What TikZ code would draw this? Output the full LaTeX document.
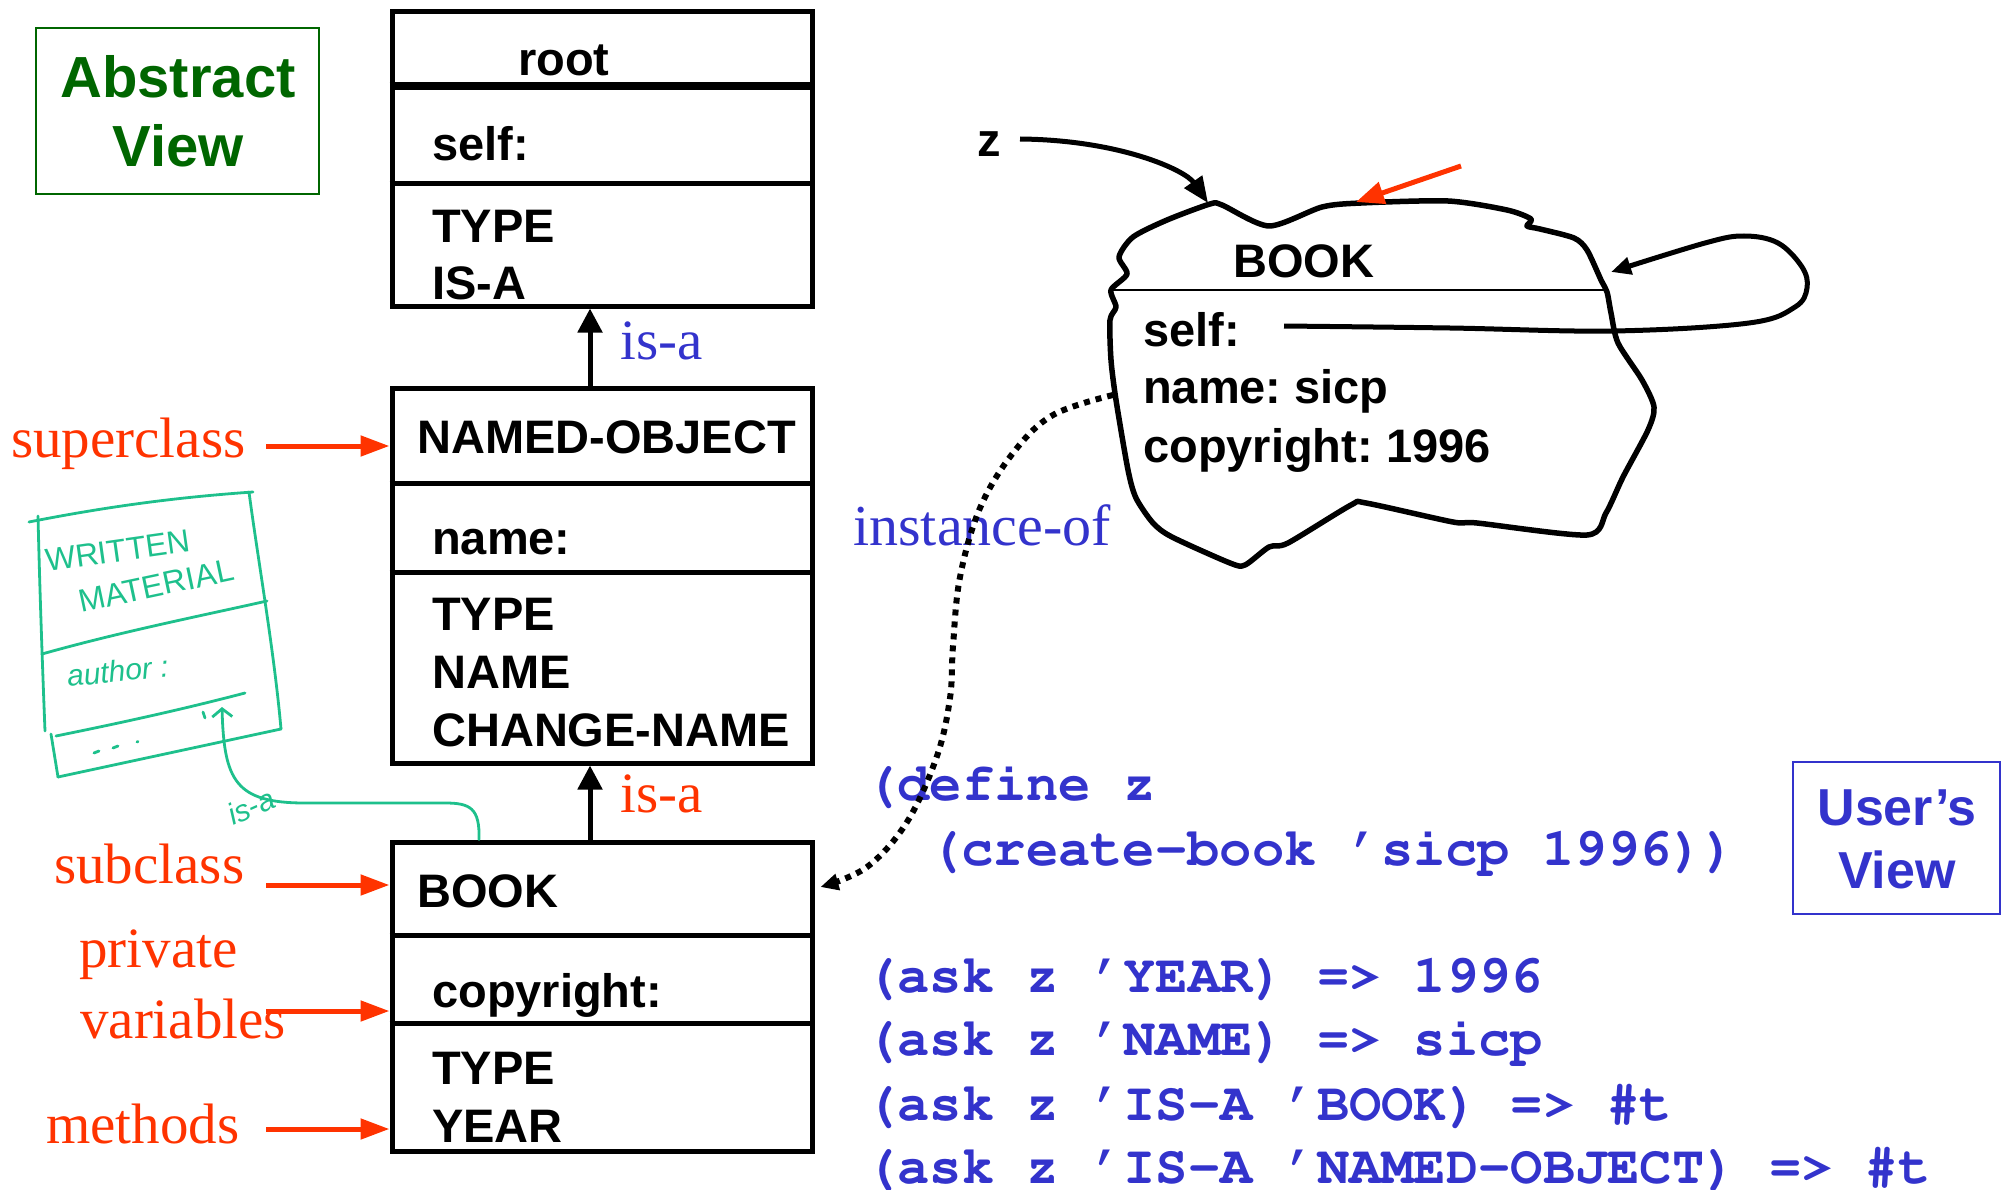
\documentclass[tikz,border=0pt]{standalone}
\usepackage[T1]{fontenc}
\usepackage{fontspec}
\setmainfont{Liberation Serif}
\setsansfont{Liberation Sans}
\setmonofont{Liberation Mono}
\usetikzlibrary{arrows.meta,calc}

\definecolor{redorange}{RGB}{255,51,0}
\definecolor{codeblue}{RGB}{51,51,204}
\definecolor{darkgreen}{RGB}{0,102,0}
\definecolor{penteal}{RGB}{30,192,140}

% bold Courier for the Scheme session
\newcommand\schemefont{\fontencoding{T1}\fontfamily{pcr}\fontseries{b}\fontshape{n}\fontsize{53.8}{64}\selectfont}
\newcommand\q{\textquoteright}

\tikzset{
  classbox/.style={draw, line width=5pt, rectangle, inner sep=0pt, minimum width=420pt},
  slotline/.style={line width=5pt},
  boxtext/.style={font=\sffamily\bfseries\fontsize{47}{56}\selectfont, anchor=base west, inner sep=0pt},
  serifnote/.style={font=\rmfamily\fontsize{57}{68}\selectfont, anchor=base west, inner sep=0pt},
  codeline/.style={font=\schemefont, text=codeblue, anchor=base west, inner sep=0pt},
  viewtitle/.style={font=\sffamily\bfseries\fontsize{58}{69}\selectfont, anchor=base, inner sep=0pt},
  isaarrow/.style={line width=5pt, -{Triangle[length=24pt,width=24pt]}},
  labelarrow/.style={redorange, line width=5pt, -{Triangle[length=29pt,width=20pt]}},
  pen/.style={penteal, line width=2.8pt, line cap=round, line join=round},
  pentext/.style={text=penteal, font=\sffamily\fontsize{32}{38}\selectfont, anchor=base west, inner sep=0pt},
}

\begin{document}
\frenchspacing
\begin{tikzpicture}[x=1pt,y=-1pt]
\useasboundingbox (0,0) rectangle (2012,1190);

% ---------- view boxes ----------
\node[draw=darkgreen, line width=2.5pt, minimum width=283pt, minimum height=166pt, inner sep=0pt] (abstractbox) at (177.5,111) {};
\node[viewtitle, text=darkgreen] (abs1) at (178,98) {Abstract};
\node[viewtitle, text=darkgreen] (abs2) at (178,167) {View};

\node[draw=codeblue, line width=2.5pt, minimum width=207pt, minimum height=152pt, inner sep=0pt] (userbox) at (1896.5,838) {};
\node[viewtitle, text=codeblue, font=\sffamily\bfseries\fontsize{52}{62}\selectfont] (usr1) at (1897,825) {User’s};
\node[viewtitle, text=codeblue, font=\sffamily\bfseries\fontsize{52}{62}\selectfont] (usr2) at (1897,888) {View};

% ---------- class boxes ----------
\node[classbox, minimum height=294pt] (root) at (602,159) {};
\draw[line width=8pt] (root.west |- 0,86) -- (root.east |- 0,86);
\draw[slotline] (root.west |- 0,184) -- (root.east |- 0,184);
\node[boxtext] (rootname) at (518,76) {root};
\node[boxtext] (rootself) at (432,161) {self:};
\node[boxtext] (rootm1) at (432,243) {TYPE};
\node[boxtext] (rootm2) at (432,299) {IS-A};

\node[classbox, minimum height=375pt] (named) at (602,575.5) {};
\draw[slotline] (named.west |- 0,483) -- (named.east |- 0,483);
\draw[slotline] (named.west |- 0,572) -- (named.east |- 0,572);
\node[boxtext] (namedname) at (417,453) {NAMED-OBJECT};
\node[boxtext] (namedvar) at (432,554) {name:};
\node[boxtext] (namedm1) at (432,630) {TYPE};
\node[boxtext] (namedm2) at (432,688) {NAME};
\node[boxtext] (namedm3) at (432,746) {CHANGE-NAME};

\node[classbox, minimum height=309pt] (book) at (602,996.5) {};
\draw[slotline] (book.west |- 0,935) -- (book.east |- 0,935);
\draw[slotline] (book.west |- 0,1023) -- (book.east |- 0,1023);
\node[boxtext] (bookname) at (417,907) {BOOK};
\node[boxtext] (bookvar) at (432,1007) {copyright:};
\node[boxtext] (bookm1) at (432,1084) {TYPE};
\node[boxtext] (bookm2) at (432,1142) {YEAR};

% inheritance arrows
\draw[isaarrow] ([xshift=-12pt]named.north) -- ([xshift=-12pt]root.south);
\draw[isaarrow] ([xshift=-12pt]book.north) -- ([xshift=-12pt]named.south);
\node[serifnote, text=codeblue] (isatop) at (620,359) {is-a};
\node[serifnote, text=redorange] (isabottom) at (620,812) {is-a};

% ---------- side labels ----------
\node[serifnote, text=redorange] (lsuper) at (11,457) {superclass};
\node[serifnote, text=redorange] (lsub) at (54,883) {subclass};
\node[serifnote, text=redorange] (lpriv1) at (79,967) {private};
\node[serifnote, text=redorange] (lpriv2) at (80,1038) {variables};
\node[serifnote, text=redorange] (lmeth) at (46,1143) {methods};
\coordinate (supsrc) at (266,446);
\coordinate (subsrc) at (266,885);
\coordinate (varsrc) at (266,1011);
\coordinate (methsrc) at (266,1129);
\draw[labelarrow] (supsrc) -- (supsrc -| named.west);
\draw[labelarrow] (subsrc) -- (subsrc -| book.west);
\draw[labelarrow] (varsrc) -- (varsrc -| book.west);
\draw[labelarrow] (methsrc) -- (methsrc -| book.west);

% ---------- hand sketch of a superclass ----------
\draw[pen] (29,522) .. controls (110,506) and (180,497) .. (253,492);
\draw[pen] (249,492) .. controls (258,560) and (274,650) .. (281,729);
\draw[pen] (38,516) .. controls (40,600) and (43,680) .. (45,731);
\draw[pen] (51,734) -- (58,777);
\draw[pen] (42,654) .. controls (120,632) and (200,616) .. (267,601);
\draw[pen] (56,736) .. controls (120,723) and (180,710) .. (245,693);
\draw[pen] (58,777) -- (281,729);
\node[pentext, rotate=8] (hwtitle1) at (47,572) {WRITTEN};
\node[pentext, rotate=12] (hwtitle2) at (81,613) {MATERIAL};
\node[pentext, rotate=6, font=\sffamily\itshape\fontsize{30}{36}\selectfont] (hwvar) at (68,687) {author :};
\draw[pen] (94,753) -- (99,751);
\draw[pen] (113,748) -- (118,746);
\draw[pen] (137,742) -- (138,741.5);
\draw[pen] (203,712) -- (205,718);
\coordinate (penfrom) at (book.north -| 479,0);
\coordinate (pento) at (222,707);
\draw[pen, -{Straight Barb[length=8pt,width=20pt]}] (penfrom) .. controls (480,808) and (470,803) .. (445,803) -- (305,803) .. controls (235,803) and (224,780) .. (pento);
\node[pentext, rotate=24, font=\sffamily\itshape\fontsize{30}{36}\selectfont] (hwisa) at (233,826) {is-a};

% ---------- the instance ----------
\draw[line width=5.5pt, line join=round] plot[smooth cycle, tension=0.45] coordinates {
  (1111,290) (1127,274) (1119,257) (1133,237) (1167,220) (1210,204) (1222,205)
  (1269,226) (1322,207) (1361,203) (1448,201) (1507,210) (1531,219) (1527,226)
  (1540,229) (1574,238) (1587,250) (1601,280) (1607,292) (1611,313) (1618,343)
  (1642,380) (1654,407) (1648,430) (1623,477) (1606,513) (1587,535) (1477,523)
  (1453,522) (1366,503) (1351,505) (1288,543) (1269,547) (1245,565) (1230,563)
  (1172,537) (1153,523) (1136,498) (1128,470) (1116,400) (1111,360) (1110,320)
  (1116,307)};
\draw[line width=2pt] (1111,290) -- (1606,290);
\node[boxtext] (instname) at (1233,277) {BOOK};
\node[boxtext] (instself) at (1143,346) {self:};
\node[boxtext] (instnm) at (1143,403) {name: sicp};
\node[boxtext] (instcp) at (1143,462) {copyright: 1996};

\node[boxtext] (zlbl) at (977,157) {z};
\coordinate (zstart) at (1020,139);
\coordinate (blobtop) at (1208,203);
\draw[line width=5pt, -{Triangle[length=26pt,width=21pt]}] (zstart) .. controls (1120,140) and (1185,170) .. (blobtop);

\coordinate (redsrc) at (1461,166);
\coordinate (redtip) at (1356,202);
\draw[redorange, line width=5pt, -{Triangle[length=28pt,width=22pt]}] (redsrc) -- (redtip);

\coordinate (selfptr) at (1284,326);
\coordinate (selfin) at (1611,272);
\draw[line width=5pt, -{Triangle[length=20pt,width=17pt]}] plot[smooth, tension=0.6] coordinates {
  (selfptr) (1450,328) (1613,331) (1749,323) (1795,307) (1807,288) (1802,267)
  (1778,243) (1744,236) (1705,243) (selfin)};

% ---------- user code ----------
\node[codeline] (c1) at (865,800) {(define z};
\node[codeline] (c2) at (929,865) {(create-book \q sicp 1996))};
\node[codeline] (c3) at (865,992) {(ask z \q YEAR) => 1996};
\node[codeline] (c4) at (865,1055) {(ask z \q NAME) => sicp};
\node[codeline] (c5) at (865,1120) {(ask z \q IS-A \q BOOK) => \#t};
\node[codeline] (c6) at (865,1183) {(ask z \q IS-A \q NAMED-OBJECT) => \#t};

\node[serifnote, text=codeblue, font=\rmfamily\fontsize{58}{69}\selectfont] (instof) at (853,545) {instance-of};

\coordinate (instsrc) at (1113,395);
\coordinate (insttgt) at ($(book.east |- 0,887)+(6,0)$);
\draw[line width=6pt, dash pattern=on 6pt off 6pt, -{Triangle[length=18pt,width=16pt]}] plot[smooth, tension=0.6] coordinates {
  (instsrc) (1053,415) (1013,453) (980,508) (960,577) (953,646) (950,698)
  (937,756) (907,822) (867,867) (insttgt)};
\end{tikzpicture}
\end{document}
